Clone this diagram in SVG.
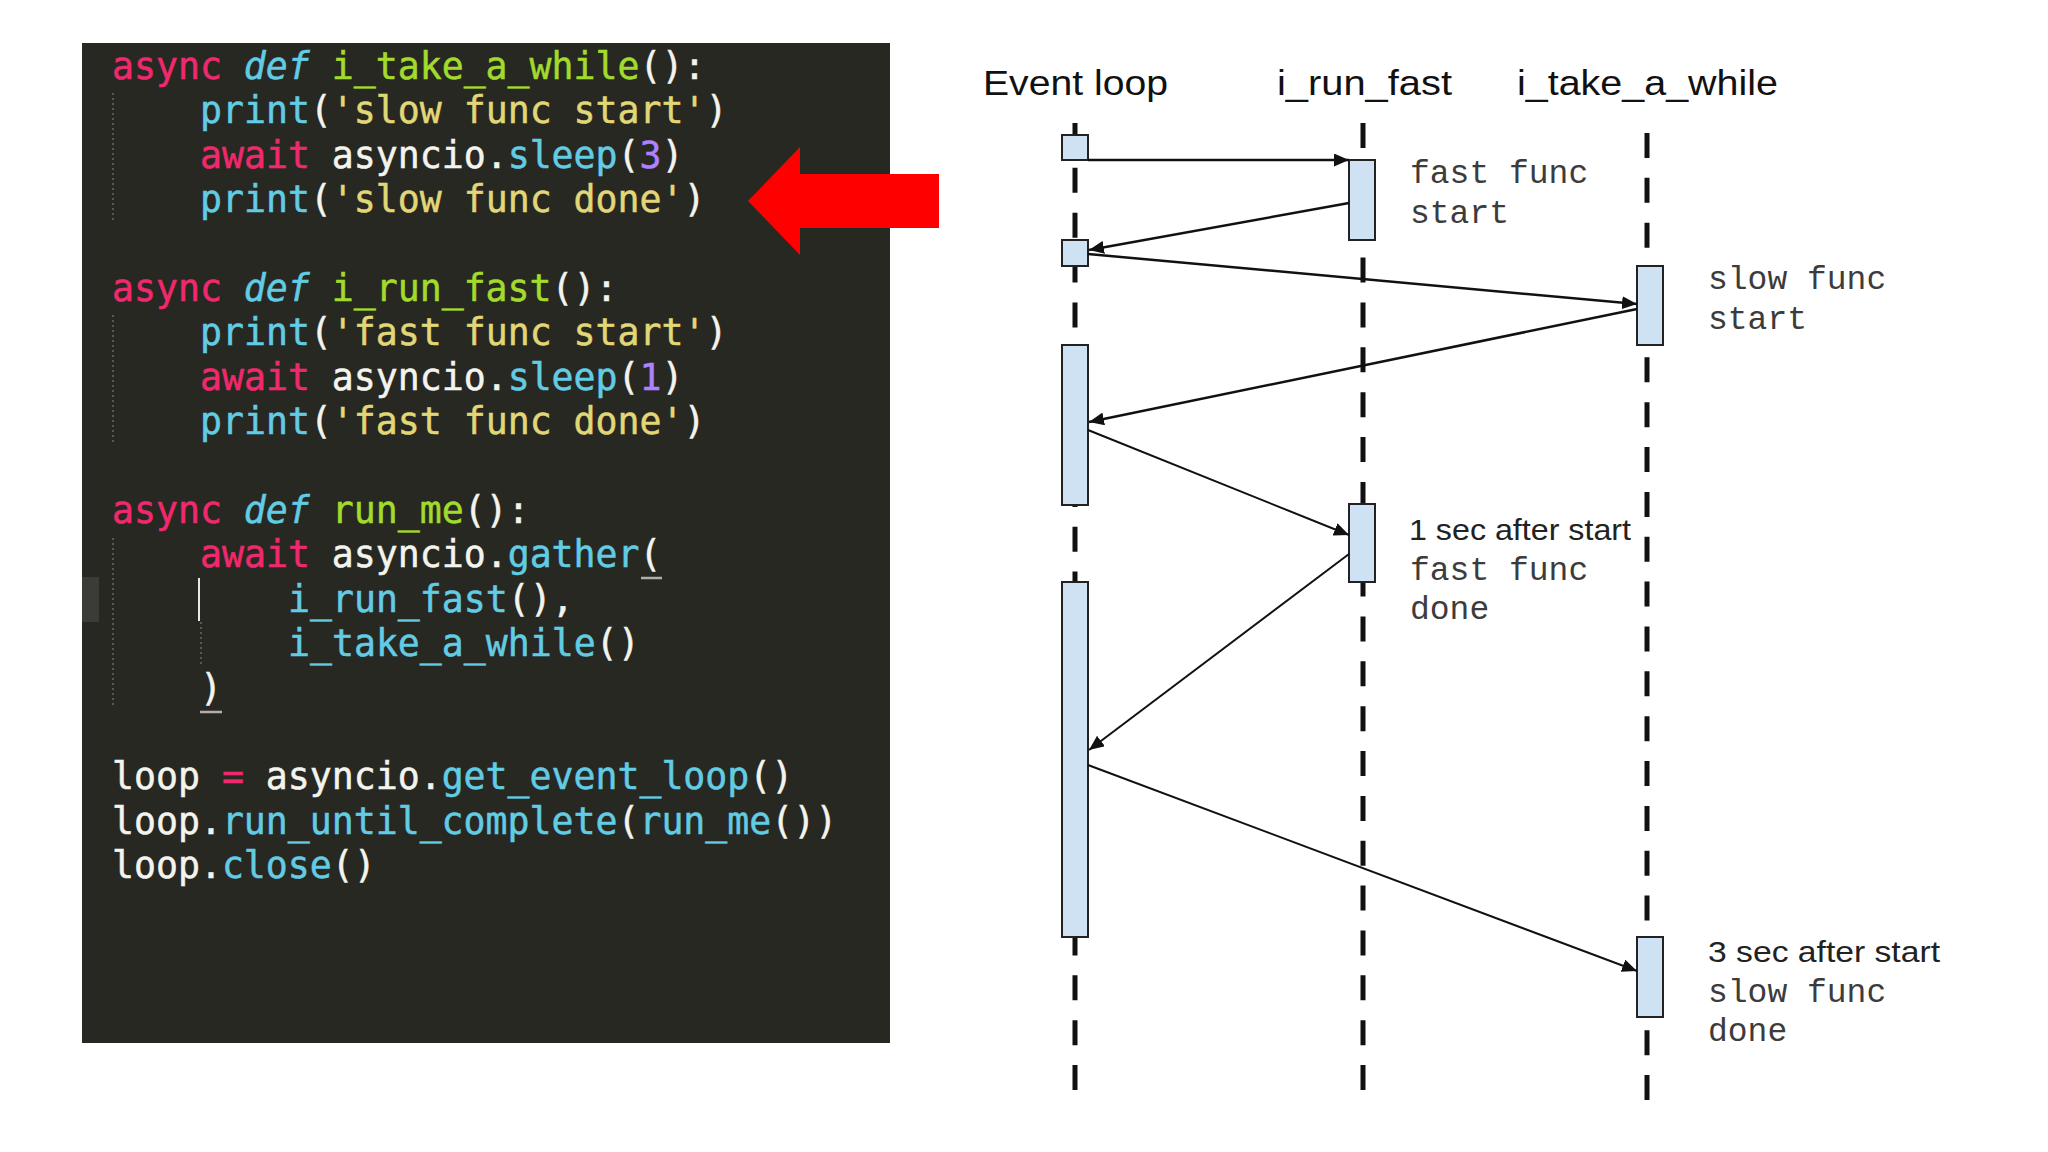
<svg xmlns="http://www.w3.org/2000/svg" width="2048" height="1152" viewBox="0 0 2048 1152">
<style>
.code{font-family:"DejaVu Sans Mono","Liberation Mono",monospace;font-size:36.5px;fill:#F4F4EE;stroke:#F4F4EE;stroke-width:0.5;white-space:pre}
.kw{fill:#F0286E;stroke:#F0286E}
.st{fill:#62CCE4;stroke:#62CCE4;font-style:italic}
.fn{fill:#A2DB2C;stroke:#A2DB2C}
.bi{fill:#62CCE4;stroke:#62CCE4}
.str{fill:#E2D777;stroke:#E2D777}
.num{fill:#AE81FF;stroke:#AE81FF}
.guide{stroke:#6a6a62;stroke-width:1.5;stroke-dasharray:2 3}
.head{font-family:"Liberation Sans",Arial,sans-serif;font-size:35px;fill:#111}
.note{font-family:"Liberation Sans",Arial,sans-serif;font-size:30px;fill:#222}
.mono{font-family:"Liberation Mono","Courier New",monospace;font-size:33px;fill:#3c3c3c}
.life{stroke:#111;stroke-width:5;stroke-dasharray:25 19.86;fill:none}
.act{fill:#CFE2F3;stroke:#222;stroke-width:2}
.msg{stroke:#111;fill:none;marker-end:url(#ah)}
</style>
<defs>
<marker id="ah" viewBox="0 0 15 13" refX="15" refY="6.5" markerWidth="15" markerHeight="13" markerUnits="userSpaceOnUse" orient="auto">
<path d="M0,0 L15,6.5 L0,13 z" fill="#111"/>
</marker>
</defs>
<rect width="2048" height="1152" fill="#ffffff"/>

<g id="code-panel">
<rect x="82" y="43" width="808" height="1000" fill="#282823"/>
<rect x="82" y="577" width="17" height="45" fill="#3c3c37"/>
<line class="guide" x1="113" y1="93" x2="113" y2="221"/>
<line class="guide" x1="113" y1="315" x2="113" y2="443"/>
<line class="guide" x1="113" y1="538" x2="113" y2="708"/>
<line class="guide" x1="201" y1="622" x2="201" y2="666"/>
<line x1="199" y1="578" x2="199" y2="621" stroke="#e8e8e8" stroke-width="2"/>
<line x1="641" y1="578" x2="662" y2="578" stroke="#b0b0a8" stroke-width="2.5"/>
<line x1="200" y1="712" x2="222" y2="712" stroke="#b0b0a8" stroke-width="2.5"/>
<text class="code" x="112" y="79"><tspan class="kw">async</tspan> <tspan class="st">def</tspan> <tspan class="fn">i_take_a_while</tspan>():</text>
<text class="code" x="200" y="123.4"><tspan class="bi">print</tspan>(<tspan class="str">'slow func start'</tspan>)</text>
<text class="code" x="200" y="167.8"><tspan class="kw">await</tspan> asyncio.<tspan class="bi">sleep</tspan>(<tspan class="num">3</tspan>)</text>
<text class="code" x="200" y="212.2"><tspan class="bi">print</tspan>(<tspan class="str">'slow func done'</tspan>)</text>
<text class="code" x="112" y="301"><tspan class="kw">async</tspan> <tspan class="st">def</tspan> <tspan class="fn">i_run_fast</tspan>():</text>
<text class="code" x="200" y="345.4"><tspan class="bi">print</tspan>(<tspan class="str">'fast func start'</tspan>)</text>
<text class="code" x="200" y="389.8"><tspan class="kw">await</tspan> asyncio.<tspan class="bi">sleep</tspan>(<tspan class="num">1</tspan>)</text>
<text class="code" x="200" y="434.2"><tspan class="bi">print</tspan>(<tspan class="str">'fast func done'</tspan>)</text>
<text class="code" x="112" y="523"><tspan class="kw">async</tspan> <tspan class="st">def</tspan> <tspan class="fn">run_me</tspan>():</text>
<text class="code" x="200" y="567.4"><tspan class="kw">await</tspan> asyncio.<tspan class="bi">gather</tspan>(</text>
<text class="code" x="288" y="611.8"><tspan class="bi">i_run_fast</tspan>(),</text>
<text class="code" x="288" y="656.2"><tspan class="bi">i_take_a_while</tspan>()</text>
<text class="code" x="200" y="700.6">)</text>
<text class="code" x="112" y="789.4">loop <tspan class="kw">=</tspan> asyncio.<tspan class="bi">get_event_loop</tspan>()</text>
<text class="code" x="112" y="833.8">loop.<tspan class="bi">run_until_complete</tspan>(<tspan class="bi">run_me</tspan>())</text>
<text class="code" x="112" y="878.2">loop.<tspan class="bi">close</tspan>()</text>
</g>

<g id="red-arrow">
<polygon points="748,201 800,147 800,174 939,174 939,228 800,228 800,255" fill="#FF0000"/>
</g>

<g id="lifeline-event-loop">
<text class="head" x="983" y="95" textLength="185" lengthAdjust="spacingAndGlyphs">Event loop</text>
<line class="life" x1="1075" y1="123" x2="1075" y2="1091"/>
</g>
<g id="lifeline-i-run-fast">
<text class="head" x="1277" y="95" textLength="175" lengthAdjust="spacingAndGlyphs">i_run_fast</text>
<line class="life" x1="1363" y1="123" x2="1363" y2="1091"/>
</g>
<g id="lifeline-i-take-a-while">
<text class="head" x="1517" y="95" textLength="261" lengthAdjust="spacingAndGlyphs">i_take_a_while</text>
<line class="life" x1="1647" y1="133" x2="1647" y2="1101"/>
</g>

<g id="activations">
<rect id="el-act-1" class="act" x="1062" y="135" width="26" height="25"/>
<rect id="el-act-2" class="act" x="1062" y="240" width="26" height="26"/>
<rect id="el-act-3" class="act" x="1062" y="345" width="26" height="160"/>
<rect id="el-act-4" class="act" x="1062" y="582" width="26" height="355"/>
<rect id="rf-act-1" class="act" x="1349" y="160" width="26" height="80"/>
<rect id="rf-act-2" class="act" x="1349" y="504" width="26" height="78"/>
<rect id="tw-act-1" class="act" x="1637" y="266" width="26" height="79"/>
<rect id="tw-act-2" class="act" x="1637" y="937" width="26" height="80"/>
</g>

<g id="connectors">
<line class="msg" stroke-width="2.5" x1="1088" y1="160" x2="1349" y2="160"/>
<line class="msg" stroke-width="2.5" x1="1349" y1="203" x2="1089" y2="250"/>
<line class="msg" stroke-width="2.5" x1="1088" y1="254" x2="1637" y2="304"/>
<line class="msg" stroke-width="2.5" x1="1637" y1="309" x2="1089" y2="422"/>
<line class="msg" stroke-width="2" x1="1088" y1="430" x2="1349" y2="535"/>
<line class="msg" stroke-width="2" x1="1349" y1="554" x2="1089" y2="750"/>
<line class="msg" stroke-width="2" x1="1088" y1="765" x2="1637" y2="971"/>
</g>

<g id="labels">
<text class="mono" x="1410" y="183">fast func</text>
<text class="mono" x="1410" y="223">start</text>
<text class="mono" x="1708" y="289">slow func</text>
<text class="mono" x="1708" y="329">start</text>
<text class="note" x="1409" y="540" textLength="222" lengthAdjust="spacingAndGlyphs">1 sec after start</text>
<text class="mono" x="1410" y="580">fast func</text>
<text class="mono" x="1410" y="619">done</text>
<text class="note" x="1708" y="962" textLength="232" lengthAdjust="spacingAndGlyphs">3 sec after start</text>
<text class="mono" x="1708" y="1002">slow func</text>
<text class="mono" x="1708" y="1041">done</text>
</g>
</svg>
